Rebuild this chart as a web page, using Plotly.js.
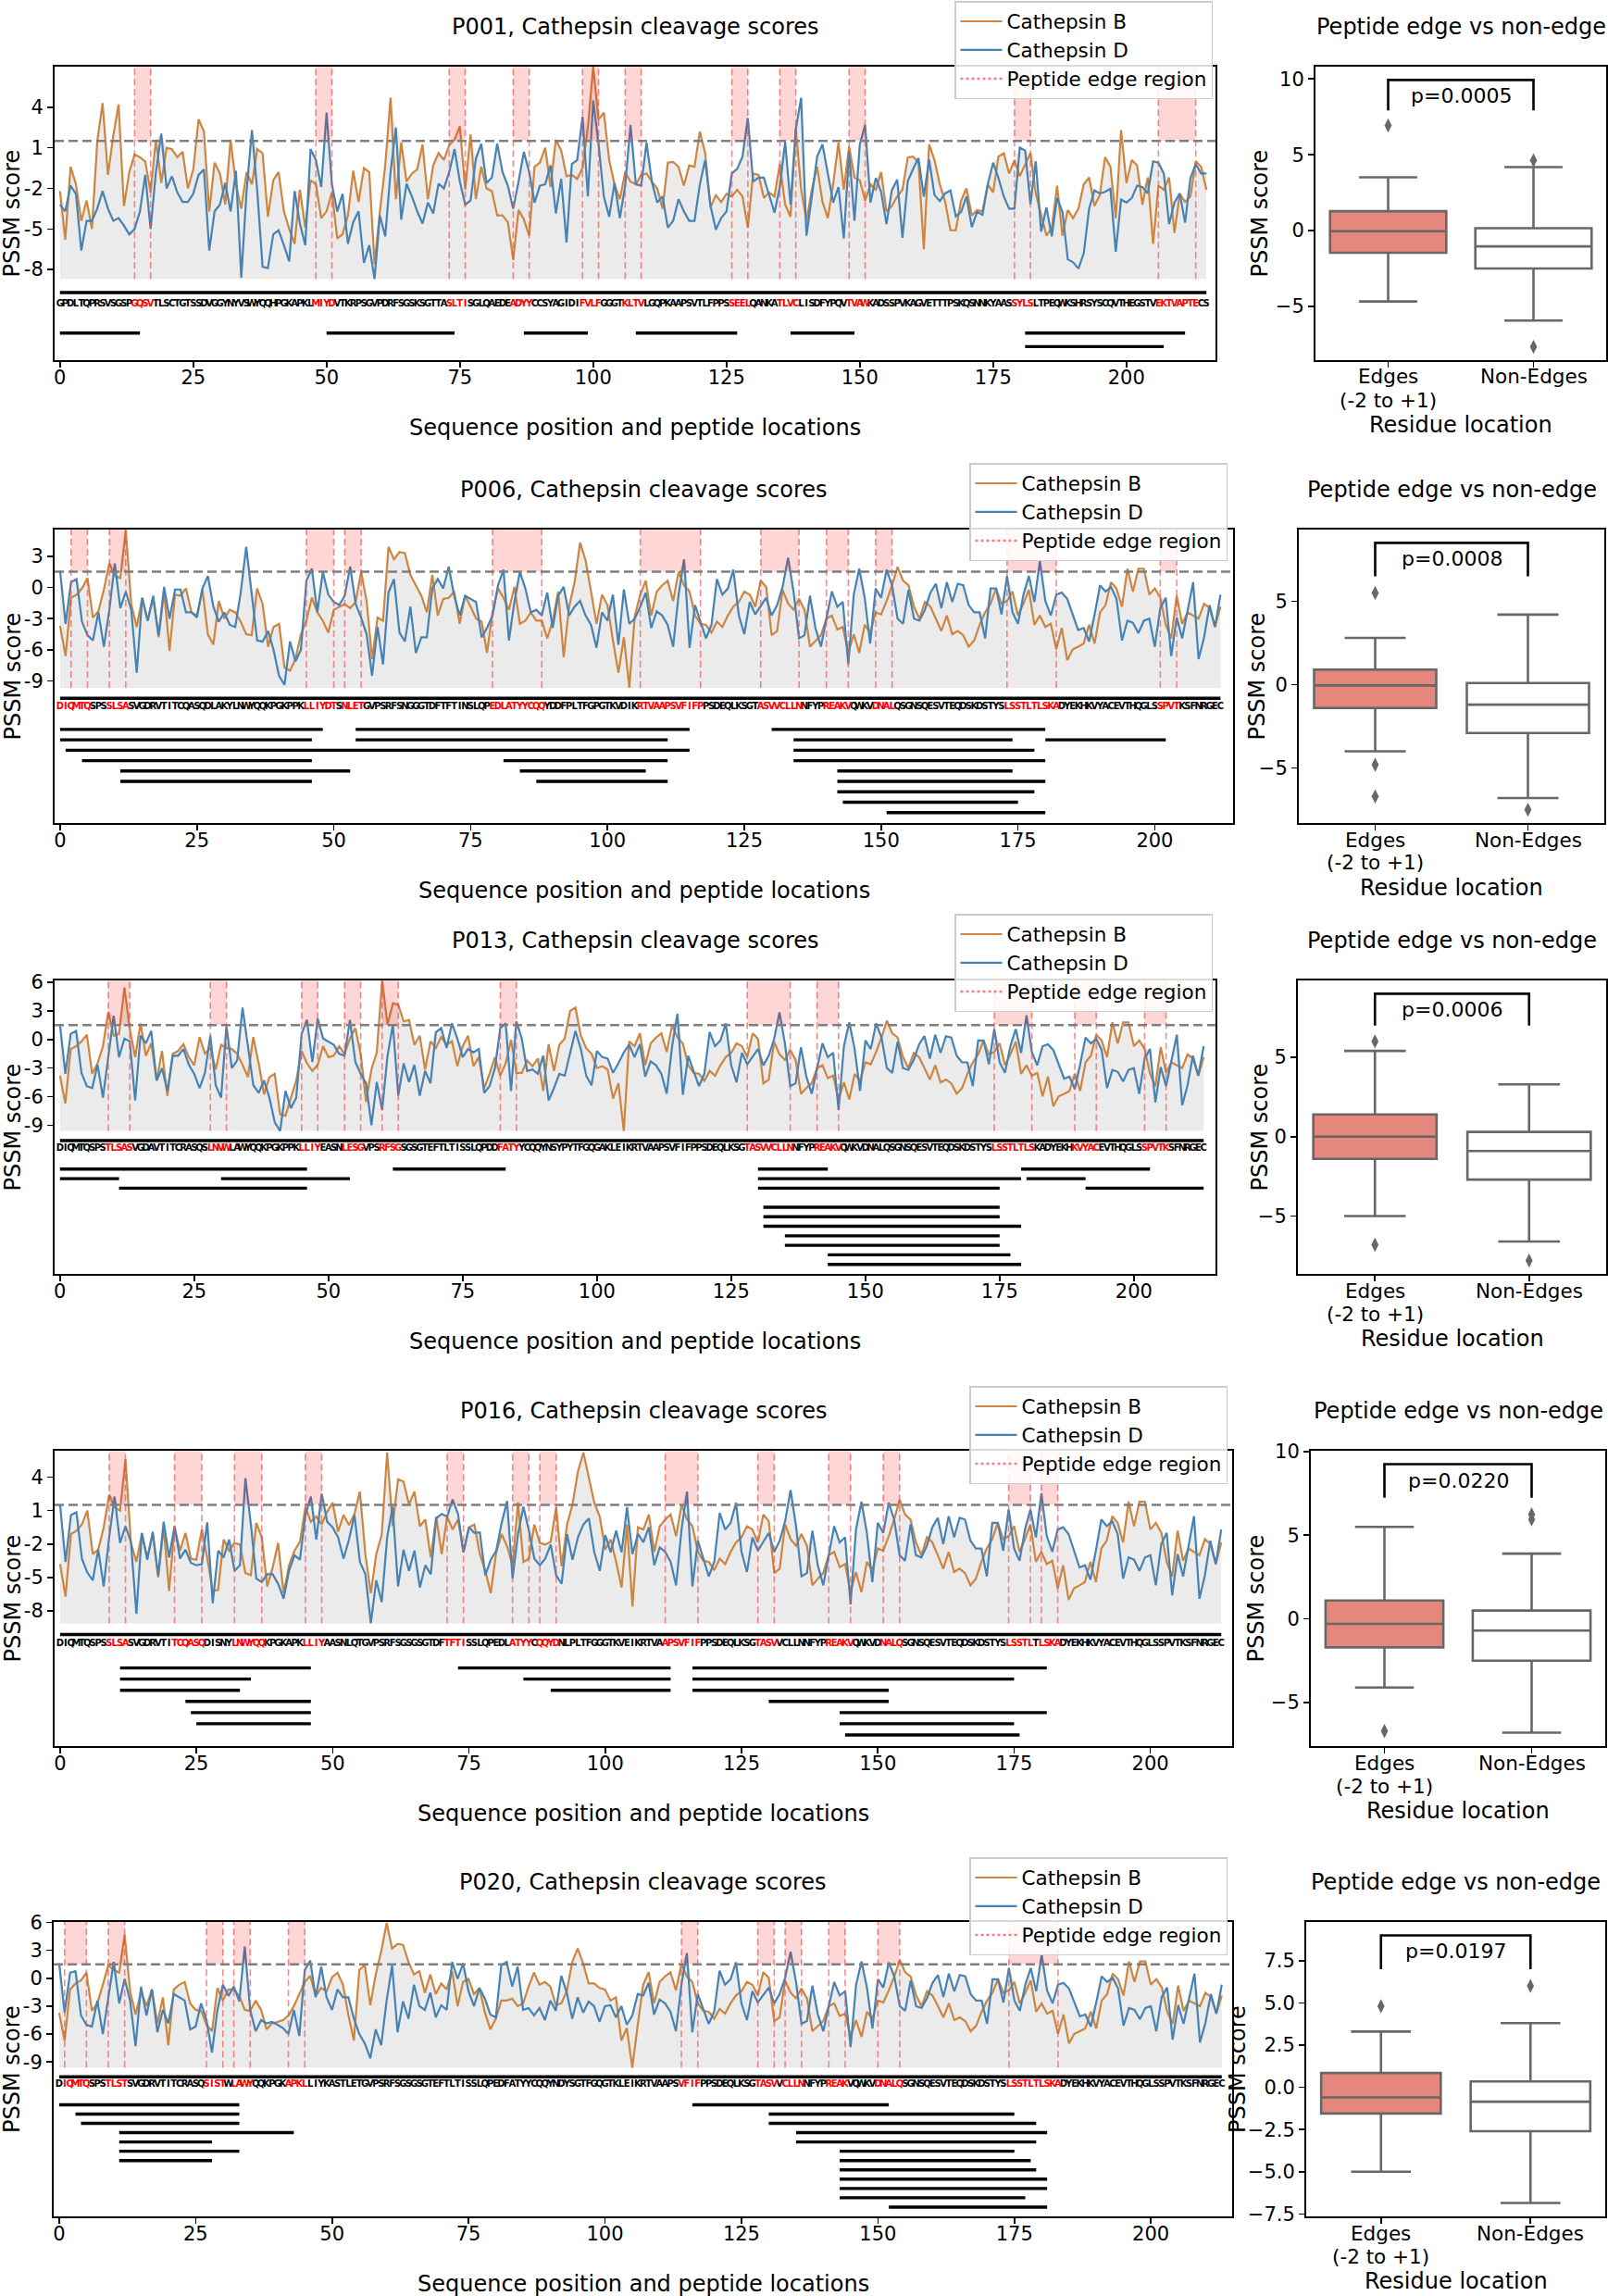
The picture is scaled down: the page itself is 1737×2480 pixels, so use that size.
<!DOCTYPE html>
<html><head><meta charset="utf-8">
<script src="https://cdn.plot.ly/plotly-3.0.1.min.js"></script>
<style>body{margin:0;background:#fff}#chart{width:1737px;height:2480px}</style>
</head><body><div id="chart"></div>
<script>
// ================= DATA =================
const xTickVals = [0,25,50,75,100,125,150,175,200];
const boxCategoryLines = [['Edges', '(-2 to +1)'], ['Non-Edges']];
const edgeThreshold = 1.5;

// ---- P001 ----
const p001_seq = "GPDLTQPRSVSGSPGQSVTLSCTGTSSDVGGYNYVSWYQQHPGKAPKLMIYDVTKRPSGVPDRFSGSKSGTTASLTISGLQAEDEADYYCCSYAGIDIFVLFGGGTKLTVLGQPKAAPSVTLFPPSSEELQANKATLVCLISDFYPQVTVAWKADSSPVKAGVETTTPSKQSNNKYAASSYLSLTPEQWKSHRSYSCQVTHEGSTVEKTVAPTECS";
const p001_B = [-2.2,-5.8,-0.4,-1.7,-4.4,-2.9,-5.0,1.5,4.3,-1.0,
 1.9,4.2,-3.3,-0.8,0.5,0.3,0.0,-2.3,1.6,-1.6,
 1.0,0.9,0.3,0.7,-2.0,-0.6,3.1,2.2,-3.7,-0.1,
 -0.9,-3.2,1.6,-1.7,-3.5,-0.8,-1.7,0.9,0.6,-4.1,
 -1.4,-0.8,-3.7,-5.0,-6.1,-2.1,-4.9,-1.4,-1.7,-4.2,
 -3.7,-2.3,-5.7,-5.4,-4.0,-0.7,-3.0,-0.5,-0.8,-7.6,
 -3.7,-0.3,4.7,-2.8,1.4,-1.5,-0.9,-0.6,1.25,-2.8,
 -0.3,0.6,0.1,1.2,1.6,2.6,-2.1,2.0,-2.8,-0.4,
 -2.0,-2.2,-4.0,-4.0,-4.5,-7.3,-3.6,-4.3,-5.5,-0.4,
 -0.1,1.0,-1.9,1.6,0.8,-1.1,-1.0,-1.3,-0.5,2.5,
 7.0,3.1,3.6,0.1,-1.7,-2.8,-0.8,-1.5,-1.7,-1.0,
 -0.9,-1.5,-2.0,-3.5,-0.1,-0.05,-0.4,-1.8,-0.3,-0.4,
 2.2,0.6,-3.4,-2.5,-3.0,-2.4,-2.6,-2.1,-2.6,-4.9,
 -0.9,-1.0,-2.7,-2.3,-2.6,-0.2,-3.2,-4.1,2.4,-2.1,
 -4.4,-2.1,-0.4,-3.0,-4.2,-1.7,1.4,-2.1,1.1,-1.2,
 -1.4,-2.9,-1.7,-2.1,-0.8,-3.7,-3.3,-2.6,-2.1,0.3,
 0.35,-0.1,-6.5,1.25,0.1,-1.7,-3.0,-5.1,-5.1,-2.9,
 -2.0,-4.0,-3.6,-3.7,-1.7,-2.3,0.35,0.6,-0.9,0.1,
 -1.1,-0.3,0.6,-2.4,-4.0,-5.5,-4.9,-1.8,-5.5,-3.6,
 -4.2,-3.5,-1.7,-1.2,-3.3,-2.5,0.3,-0.4,-4.2,2.3,
 -1.6,0.1,-0.3,-3.2,-1.2,-6.1,-1.8,-2.1,-1.2,-5.3,
 -2.4,-3.0,-2.6,0.0,-0.4,-2.1];
const p001_D = [-3.2,-3.7,-1.8,-2.4,-6.6,-4.4,-4.4,-3.5,-2.2,-3.5,
 -4.4,-4.2,-4.75,-5.4,-5.0,-3.7,-1.0,-5.0,-0.8,2.05,
 -2.0,-1.1,-2.3,-3.0,-3.0,-2.4,-1.0,-0.6,-6.6,-3.7,
 -3.2,-1.6,-3.7,-0.7,-8.6,-2.2,2.3,-2.2,-7.8,-7.9,
 -5.4,-5.1,-6.2,-7.4,-2.2,-4.6,-6.2,0.9,0.1,-1.9,
 3.6,-1.7,-3.7,-2.4,-6.1,-4.5,-3.7,-7.5,-6.2,-8.7,
 -4.0,-5.55,-0.8,2.5,-4.3,-1.65,-2.6,-3.7,-4.6,-3.05,
 -3.85,-1.65,-2.0,-0.8,0.9,-1.5,-3.2,-2.9,0.2,1.3,
 -1.6,-1.2,1.3,-0.8,-1.8,-3.5,-1.5,0.7,-0.8,-3.05,
 -1.8,-1.7,-0.3,-3.85,-1.3,-6.0,-0.2,0.1,3.3,-2.6,
 4.5,1.3,-2.6,-4.1,-1.6,-4.2,-1.8,2.7,-1.7,-1.8,
 1.4,-1.5,-3.05,-2.6,-4.9,-4.4,-2.8,-3.7,-4.4,-4.4,
 -1.7,0.1,-3.3,-5.05,-4.2,-3.7,-0.9,-0.56,0.35,3.2,
 -1.5,-1.2,-1.2,-2.5,-3.8,-1.9,1.45,-3.2,2.4,4.7,
 -5.5,-2.6,0.35,1.25,-1.0,-3.05,-1.9,-5.7,0.7,-4.4,
 1.25,2.7,-3.05,-1.24,-2.26,-4.64,-2.15,-1.35,-5.66,-1.46,
 -0.56,0.24,-2.6,0.12,-2.49,-2.94,-2.37,-2.15,-4.07,-3.73,
 -2.6,-4.87,-3.73,-3.96,-1.69,-0.1,-1.24,-2.6,-3.5,-3.5,
 1.03,0.8,-3.17,0.0,-5.2,-3.4,-5.55,-2.7,-3.73,-7.25,
 -7.47,-7.93,-6.8,-3.5,-2.15,-2.37,-2.26,-2.03,-6.68,-2.83,
 -3.05,-2.71,-1.8,-1.92,-2.37,0.0,-0.1,-0.9,-4.64,-3.05,
 -2.37,-4.53,-1.24,-0.22,-0.9,-0.9];
const p001_rows = [[[0,15],[50,74],[87,99],[108,127],[137,149],[181,211]], [[181,207]]];
const p001_bands = [[14,17],[48,51],[73,76],[85,88],[98,101],[106,109],[126,129],[135,138],[148,151],[179,182],[206,213]];
const p001_extraRed = [];
const p001_yticks = [4,1,-2,-5,-8];
const p001_edgeBox = [-4.67,-1.46,-0.04,1.28,3.52];
const p001_edgeOut = [6.93];
const p001_nonBox = [-5.93,-2.5,-1.04,0.16,4.19];
const p001_nonOut = [4.63,-7.66];
const p001_p = "p=0.0005";

// ---- shared kappa constant region (R..C) ----
const kappaB = [-0.7,0.65,-2.7,-0.4,0.2,0.65,-1.3,1.5,0.2,-0.4,
 -2.7,-3.5,-3.6,-4.35,-3.3,-3.8,-2.7,-1.85,-1.4,-0.4,
 -0.7,-1.85,0.65,0.05,-4.6,-4.2,-0.24,-1.56,-2.15,-1.1,
 -2.15,-5.7,-5.1,-4.6,-3.0,-2.7,-4.06,-3.8,-6.3,-4.5,
 -6.3,-3.6,-4.35,-2.4,-2.6,-1.3,0.2,1.97,0.65,0.2,
 -1.85,-3.0,-1.4,-1.85,-3.0,-4.2,-2.7,-4.5,-4.2,-4.6,
 -5.7,-5.1,-3.6,-2.4,-1.56,-0.1,-1.56,-1.3,-0.4,-2.7,
 -1.56,-0.24,-3.6,-2.7,-3.8,-3.5,-5.97,-3.9,-7.0,-5.97,
 -5.7,-5.4,-3.6,-5.4,-2.4,-1.7,0.5,-0.1,-1.85,1.8,
 -0.4,1.8,1.8,-0.7,-0.1,-0.97,-3.6,-4.9,-0.8,-3.5,
 -2.4,-2.7,-3.0,-1.56,-2.0,-3.8,-1.85];
const kappaD = [-1.85,-0.5,-3.9,-2.3,-2.7,-3.6,-5.7,-0.7,2.7,-5.8,
 -1.7,-3.3,-4.9,-3.6,0.8,-0.7,-0.1,1.7,-2.7,-4.5,
 -1.4,-2.6,-1.85,-1.0,-2.7,-1.7,0.05,2.85,-0.4,-4.9,
 -4.6,-0.8,-3.9,-5.7,-3.0,-0.4,-1.85,-1.4,-7.4,-0.7,
 1.8,-1.0,-5.4,-0.1,-1.0,1.7,0.2,-3.0,-3.5,-0.24,
 -3.0,-3.2,-2.15,-0.5,0.35,-2.0,0.5,-1.4,0.35,0.2,
 -1.7,-2.4,-2.4,-4.9,-0.1,-0.1,-2.6,1.1,-2.4,-3.5,
 -0.7,1.1,-1.4,2.55,-1.3,-2.7,-0.7,-0.5,-1.1,-2.7,
 -4.1,-3.9,-5.2,-2.6,0.2,-0.4,0.05,-1.1,-5.1,-3.2,
 -3.4,-4.4,-3.2,-3.0,-5.7,-2.0,-1.0,-6.6,-2.9,-4.9,
 -2.15,0.5,-6.9,-4.8,-1.7,-3.8,-0.7];

// ---- P006 ----
const p006_seq = "DIQMTQSPSSLSASVGDRVTITCQASQDLAKYLNWYQQKPGKPPKLLIYDTSNLETGVPSRFSNGGGTDFTFTINSLQPEDLATYYCQQYDDFPLTFGPGTKVDIKRTVAAPSVFIFPPSDEQLKSGTASVVCLLNNFYPREAKVQWKVDNALQSGNSQESVTEQDSKDSTYSLSSTLTLSKADYEKHKVYACEVTHQGLSSPVTKSFNRGEC";
const p006_Bvar = [-3.7,-6.6,-1.0,-0.7,-0.1,0.9,-2.9,-2.3,-0.2,2.3,
 1.1,0.9,5.5,-1.6,-3.8,-1.0,-3.2,-1.0,-4.8,-0.4,
 -6.1,-0.7,-0.8,-0.1,-2.4,-2.7,-0.2,-4.5,-5.5,-1.3,
 -3.0,-2.15,-2.4,-3.3,-4.5,-4.6,-0.1,-1.6,-5.7,-3.8,
 -3.5,-7.7,-8.0,-6.9,-4.5,-3.2,-1.0,-2.4,-3.2,-4.35,
 -2.15,-1.85,-1.6,-2.0,-1.4,1.5,-1.3,-6.9,-2.9,-3.2,
 3.9,2.7,3.4,3.3,1.2,0.2,-0.8,-2.4,1.2,-2.7,
 -1.1,-1.0,-0.4,-3.5,-0.8,-1.85,-3.0,-3.3,-6.3,-2.4,
 -0.1,-1.0,-2.15,0.05,-3.5,-3.2,-2.4,-3.2,-3.2,-4.9,
 -3.2,-0.4,-6.7,-1.85,0.5,4.3,2.6,-0.4,-3.5,-0.7,
 -1.7,-5.1,-8.2,-4.8,-9.65,-2.7];
const p006_Dvar = [1.6,-3.5,0.5,0.8,-3.3,-4.6,-5.1,-2.4,-5.7,-2.15,
 2.3,-2.0,-0.4,-2.15,-8.2,-1.0,-3.2,-0.8,-4.6,0.05,
 -3.0,-0.2,-0.2,-2.4,-2.4,-2.9,-0.1,1.1,-1.85,-3.3,
 -2.4,-3.6,-3.8,-0.5,3.9,-0.7,-5.1,-5.2,-4.2,-6.0,
 -8.5,-9.35,-5.2,-7.1,-6.0,0.65,1.8,-2.4,1.5,-0.7,
 -1.4,-1.7,-0.8,2.0,-1.6,-2.9,-4.5,-8.5,-3.8,-7.4,
 -0.5,0.8,-4.35,-5.2,-1.85,-6.3,-4.8,-4.8,-0.1,0.8,
 -0.1,2.0,-0.8,-2.7,-0.8,-1.1,-1.4,-4.8,-3.9,-2.7,
 0.2,1.7,-5.1,-1.4,1.5,-0.1,-2.4,-2.15,-2.7,-0.5,
 -3.9,-0.8,0.05,-2.7,-1.85,-1.3,-2.7,-3.6,-5.8,-2.4,
 -3.2,-0.7,-5.5,-0.2,-3.5,-3.0];
const p006_rows = [[[0,48],[54,115],[130,180]], [[0,46],[54,111],[134,174],[180,202]], [[1,115],[134,178]],
 [[4,46],[81,111],[134,180]], [[11,53],[84,107],[142,174]], [[11,46],[87,111],[142,180]],
 [[142,178]], [[143,175]], [[151,180]]];
const p006_bands = [[2,5],[9,12],[45,50],[52,55],[79,88],[106,117],[128,135],[140,144],[149,152],[173,182],[201,204]];
const p006_extraRed = [[0,1]];
const p006_yticks = [3,0,-3,-6,-9];
const p006_edgeBox = [-4.0,-1.4,-0.05,0.9,2.8];
const p006_edgeOut = [5.5,-4.8,-6.7];
const p006_nonBox = [-6.8,-2.9,-1.2,0.1,4.2];
const p006_nonOut = [-7.5];
const p006_p = "p=0.0008";

// ---- P013 ----
const p013_seq = "DIQMTQSPSTLSASVGDAVTITCRASQSLNVWLAWYQQKPGKPPKLLIYEASNLESGVPSRFSGSGSGTEFTLTISSLQPDDFATYYCQQYNSYPYTFGQGAKLEIKRTVAAPSVFIFPPSDEQLKSGTASVVCLLNNFYPREAKVQWKVDNALQSGNSQESVTEQDSKDSTYSLSSTLTLSKADYEKHKVYACEVTHQGLSSPVTKSFNRGEC";
const p013_Bvar = [-3.8,-6.7,-1.0,-0.7,-0.2,0.5,-3.6,-2.5,-0.7,2.9,
 0.4,0.6,5.45,1.1,-1.85,1.7,-1.7,-0.4,-4.3,-1.2,
 -5.9,-1.5,-1.2,-0.5,-1.85,-2.7,0.26,-1.5,-0.9,-3.15,
 -0.55,-0.9,-1.0,-1.5,-2.65,-3.95,0.26,-2.5,-5.75,-3.95,
 -3.6,-7.85,-8.0,-6.1,-4.3,-1.2,-2.5,-3.3,-2.65,-0.7,
 -1.85,-1.7,-0.7,-1.5,0.1,1.2,-1.5,-6.55,-3.15,-1.35,
 6.2,1.55,3.8,3.65,1.9,2.05,-0.55,0.4,-3.15,-0.2,
 -0.9,0.26,-0.55,-0.2,-2.8,-0.7,0.4,-2.8,-1.85,-5.1,
 -3.6,-1.85,-3.8,-2.5,-0.06,-3.5,-3.5,-2.2,-2.8,-2.0,
 -5.4,-0.5,-3.3,-0.55,0.1,3.0,3.35,0.4,-0.9,-1.5,
 -3.0,-2.8,-3.15,-6.2,-4.6,-9.6,-0.2];
const p013_Dvar = [1.55,-3.6,0.6,0.9,-3.5,-4.9,-5.1,-2.65,-6.1,-1.85,
 2.5,-1.85,0.1,-0.2,-6.4,0.4,-0.4,0.9,-4.3,-3.0,
 -5.4,-1.7,-1.7,-1.0,-2.65,-3.6,-5.1,-3.5,0.4,-4.8,
 -6.1,1.4,-3.0,-2.2,3.35,-0.7,-4.8,-5.6,-4.3,-6.1,
 -8.7,-9.6,-5.4,-7.2,-6.1,0.6,2.05,-2.35,2.2,0.1,
 -0.2,-0.55,-1.5,-1.7,2.05,-2.35,-3.6,-4.6,-9.0,-4.45,
 -7.4,-1.7,1.55,-5.9,-2.5,-4.45,-2.65,-5.9,-3.3,-4.6,
 0.75,1.2,-0.9,1.7,0.1,-1.85,-1.0,-1.35,-1.0,-5.6,
 -4.9,-3.0,1.2,1.7,-5.4,1.9,0.1,-3.3,-3.15,-3.6,
 -1.7,-6.4,-5.1,-3.6,-3.8,-1.5,0.9,-1.0,-3.8,-4.8,
 -1.2,-1.85,-2.0,-3.5,-2.5,-1.35,-0.55];
const p013_rows = [[[0,46],[62,83],[130,143],[179,203]], [[0,11],[30,54],[130,179],[180,191]], [[11,46],[130,175],[191,213]],
 [], [[131,175]], [[131,175]], [[131,179]], [[135,175]], [[135,175]], [[143,177]], [[143,179]]];
const p013_bands = [[9,13],[28,31],[45,48],[53,56],[60,63],[82,85],[128,136],[141,145],[174,181],[189,193],[202,206]];
const p013_extraRed = [];
const p013_yticks = [6,3,0,-3,-6,-9];
const p013_edgeBox = [-5.0,-1.4,0.0,1.4,5.4];
const p013_edgeOut = [6.0,-6.8];
const p013_nonBox = [-6.6,-2.7,-0.9,0.3,3.3];
const p013_nonOut = [-7.8];
const p013_p = "p=0.0006";

// ---- P016 ----
const p016_seq = "DIQMTQSPSSLSASVGDRVTITCQASQDISNYLNWYQQKPGKAPKLLIYAASNLQTGVPSRFSGSGSGTDFTFTISSLQPEDLATYYCQQYDNLPLTFGGGTKVEIKRTVAAPSVFIFPPSDEQLKSGTASVVCLLNNFYPREAKVQWKVDNALQSGNSQESVTEQDSKDSTYSLSSTLTLSKADYEKHKVYACEVTHQGLSSPVTKSFNRGEC";
const p016_Bvar = [-3.8,-6.7,-1.1,-0.8,-0.25,1.0,-2.9,-2.5,-0.5,2.4,
 1.3,1.0,5.6,-1.9,-3.6,-1.1,-3.2,-1.1,-5.0,-0.5,
 -6.2,-0.5,-2.6,-1.0,-3.3,-3.4,-0.7,-3.25,-6.2,-6.1,
 -1.6,-2.6,-1.9,-2.05,-4.6,-4.8,-0.1,-1.4,-5.8,-4.1,
 -1.9,-6.4,-3.9,-2.6,-1.8,1.3,0.0,0.45,-0.25,0.9,
 1.7,-0.9,0.6,-0.3,0.7,2.7,-2.9,-6.4,-2.9,-1.2,
 6.2,-0.4,3.8,3.6,1.55,2.7,-0.4,0.2,-3.2,0.45,
 -2.9,0.45,-0.7,0.2,-2.75,-0.5,-0.25,-2.9,-4.4,-6.4,
 -2.75,-1.1,-2.2,-3.9,1.7,-3.6,-3.3,-0.25,-1.9,-2.05,
 -1.8,1.3,-4.0,-0.25,1.55,4.5,6.2,3.8,1.7,0.45,
 -2.5,-1.6,-3.6,-5.9,-0.25,-7.6,-0.5];
const p016_Dvar = [1.55,-3.6,0.6,0.85,-3.3,-4.55,-5.25,-2.5,-5.8,-1.4,
 2.25,-1.9,-0.4,-1.8,-8.25,-1.0,-3.4,-0.9,-4.8,0.0,
 -3.2,-0.4,-3.3,-2.5,-3.7,-3.9,-3.8,-0.05,-7.3,-2.6,
 -3.2,-1.6,-4.4,-3.9,3.9,-0.25,-5.1,-5.4,-4.7,-4.7,
 -5.55,-6.9,-4.4,-3.0,-3.4,0.6,2.25,-1.6,2.5,0.0,
 -0.5,-1.4,-3.3,-1.6,0.6,-3.6,-4.7,-9.1,-5.25,-7.2,
 -1.4,1.35,-5.8,-2.5,-4.4,-2.6,-5.9,-3.9,-4.7,0.3,
 0.7,0.45,2.0,0.7,-2.75,-0.5,-1.0,-0.95,-4.8,-3.4,
 -2.6,-0.1,1.85,-5.1,-1.1,1.35,-0.8,-3.3,-3.9,-3.3,
 -2.05,-4.8,-5.55,-1.1,-3.4,-1.4,-0.25,0.3,-2.75,-4.4,
 -1.2,-2.75,-0.8,-2.75,1.3,-2.9,-1.1];
const p016_rows = [[[11,46],[73,112],[116,181]], [[11,35],[85,112],[116,175]], [[11,33],[90,112],[116,152]],
 [[23,46],[130,152]], [[24,46],[143,181]], [[25,46],[143,175]], [[144,176]]];
const p016_bands = [[9,12],[21,26],[32,37],[45,48],[71,74],[83,86],[88,91],[111,117],[128,131],[141,145],[151,154],[174,178],[180,183]];
const p016_extraRed = [];
const p016_yticks = [4,1,-2,-5,-8];
const p016_edgeBox = [-4.1,-1.7,-0.3,1.1,5.5];
const p016_edgeOut = [-6.7];
const p016_nonBox = [-6.8,-2.5,-0.7,0.5,3.9];
const p016_nonOut = [6.25,5.95];
const p016_p = "p=0.0220";

// ---- P020 ----
const p020_seq = "DIQMTQSPSTLSTSVGDRVTITCRASQSISTWLAWYQQKPGKAPKLLIYKASTLETGVPSRFSGSGSGTEFTLTISSLQPEDFATYYCQQYNDYSGTFGQGTKLEIKRTVAAPSVFIFPPSDEQLKSGTASVVCLLNNFYPREAKVQWKVDNALQSGNSQESVTEQDSKDSTYSLSSTLTLSKADYEKHKVYACEVTHQGLSSPVTKSFNRGEC";
const p020_Bvar = [-3.7,-6.7,-1.2,-0.56,-0.23,0.6,-3.5,-2.7,-0.7,1.4,
 0.9,0.6,4.7,-1.4,-3.9,-1.4,-3.0,-1.2,-4.85,-2.05,
 -7.2,-1.2,-0.7,-0.4,-2.7,-3.4,-3.5,-5.0,-5.7,-1.05,
 -2.4,-1.2,-1.2,-1.9,-3.4,-3.5,-2.4,-3.4,-5.5,-4.85,
 -4.7,-4.5,-4.0,-3.0,-1.7,-0.4,0.26,-1.9,-1.05,-1.4,
 0.1,0.6,-0.7,-4.0,-6.7,0.9,1.4,-2.9,0.4,2.9,
 5.95,3.2,3.7,3.6,1.75,0.4,0.76,-1.55,0.4,-1.7,
 -0.56,-1.2,0.76,-3.0,-0.4,-0.07,-1.7,-1.05,-3.7,-5.5,
 -4.35,-2.4,-2.4,-2.2,-3.0,-2.7,-0.9,0.6,-0.7,-0.4,
 -0.9,-2.9,-2.7,-1.4,1.75,3.2,1.6,-0.56,-0.56,-1.05,
 -1.2,-2.4,-2.05,-6.7,-5.35,-9.6,-5.0];
const p020_Dvar = [1.6,-3.7,0.6,0.76,-4.0,-5.0,-5.2,-2.4,-6.0,-1.9,
 1.75,-2.7,-0.07,-2.4,-7.3,-0.9,-4.0,-1.2,-5.8,-3.4,
 -4.85,-1.7,-2.05,-2.4,-5.5,-5.2,-2.7,-4.5,-8.0,-3.4,
 -0.7,-1.9,-0.9,-2.5,3.4,-3.4,-5.7,-4.5,-4.85,-4.7,
 -5.0,-5.35,-6.0,-3.4,-6.2,0.9,1.9,-2.05,1.25,-2.05,
 -3.4,-1.2,-2.05,-2.05,-4.35,-6.0,-7.0,-8.6,-5.5,-7.2,
 -2.4,1.4,-5.8,-2.5,-4.35,-0.7,-3.0,-3.4,-1.55,-4.2,
 -2.9,-3.4,1.75,-0.07,1.6,-1.4,-3.0,-1.05,-2.2,-3.9,
 -4.2,1.4,1.75,-0.9,1.25,-3.4,-3.2,-4.0,-3.2,-4.5,
 -2.4,-3.5,0.26,-1.55,-4.35,-2.05,-3.7,-2.5,-3.0,-4.7,
 -3.0,-2.9,-4.2,-3.0,-5.0,-4.0,-1.7];
const p020_rows = [[[0,33],[116,152]], [[3,33],[130,175]], [[4,33],[130,179]], [[11,43],[135,181]],
 [[11,28],[135,179]], [[11,33],[143,175]], [[11,28],[143,178]], [[143,179]], [[143,181]], [[143,181]], [[143,177]], [[152,181]]];
const p020_bands = [[1,5],[9,12],[27,30],[32,35],[42,45],[114,117],[128,131],[133,136],[141,144],[150,154],[174,183]];
const p020_extraRed = [];
const p020_yticks = [6,3,0,-3,-6,-9];
const p020_edgeBox = [-5.0,-1.55,-0.6,0.85,3.3];
const p020_edgeOut = [4.8];
const p020_nonBox = [-6.85,-2.6,-0.85,0.35,3.8];
const p020_nonOut = [6.0];
const p020_p = "p=0.0197";

// ================= LAYOUT CONFIG (pixels) =================
const W = 1737, H = 2480;
const FONT = 'DejaVu Sans, Verdana, sans-serif';
const panels = [
 {id:'P001', seq:p001_seq, B:p001_B, D:p001_D, rows:p001_rows, bands:p001_bands, extraRed:p001_extraRed, yticks:p001_yticks,
  eBox:p001_edgeBox, eOut:p001_edgeOut, nBox:p001_nonBox, nOut:p001_nonOut, p:p001_p,
  main:[59,1313], side:[1421,1735], top:72, bottom:389, xmax:216.7, ytop:7.0, legR:1310, legT:1, ytitleBox:1361, dtick:5},
 {id:'P006', seq:p006_seq, B:p006_Bvar.concat(kappaB), D:p006_Dvar.concat(kappaD), rows:p006_rows, bands:p006_bands, extraRed:p006_extraRed, yticks:p006_yticks,
  eBox:p006_edgeBox, eOut:p006_edgeOut, nBox:p006_nonBox, nOut:p006_nonOut, p:p006_p,
  main:[59,1332], side:[1403,1733], top:572, bottom:889, xmax:214.3, ytop:5.56, legR:1326, legT:500, ytitleBox:1357, dtick:5},
 {id:'P013', seq:p013_seq, B:p013_Bvar.concat(kappaB), D:p013_Dvar.concat(kappaD), rows:p013_rows, bands:p013_bands, extraRed:p013_extraRed, yticks:p013_yticks,
  eBox:p013_edgeBox, eOut:p013_edgeOut, nBox:p013_nonBox, nOut:p013_nonOut, p:p013_p,
  main:[59,1313], side:[1402,1735], top:1059, bottom:1376, xmax:215.2, ytop:6.2, legR:1310, legT:987, ytitleBox:1360, dtick:5},
 {id:'P016', seq:p016_seq, B:p016_Bvar.concat(kappaB), D:p016_Dvar.concat(kappaD), rows:p016_rows, bands:p016_bands, extraRed:p016_extraRed, yticks:p016_yticks,
  eBox:p016_edgeBox, eOut:p016_edgeOut, nBox:p016_nonBox, nOut:p016_nonOut, p:p016_p,
  main:[59,1331], side:[1416,1734], top:1567, bottom:1886, xmax:215.0, ytop:6.36, legR:1326, legT:1497, ytitleBox:1356, dtick:5},
 {id:'P020', seq:p020_seq, B:p020_Bvar.concat(kappaB), D:p020_Dvar.concat(kappaD), rows:p020_rows, bands:p020_bands, extraRed:p020_extraRed, yticks:p020_yticks,
  eBox:p020_edgeBox, eOut:p020_edgeOut, nBox:p020_nonBox, nOut:p020_nonOut, p:p020_p,
  main:[58,1331], side:[1411,1734], top:2076, bottom:2394, xmax:214.9, ytop:6.05, legR:1326, legT:2006, ytitleBox:1337, dtick:2.5}
];

const px = v => v / W;
const py = v => 1 - v / H;
const traces = [];
const layout = {width:W, height:H, margin:{l:0,r:0,t:0,b:0}, paper_bgcolor:'#ffffff', plot_bgcolor:'#ffffff',
  showlegend:true, shapes:[], annotations:[], font:{family:FONT, color:'#000'}};
const axisBase = {showline:true, linecolor:'#000', linewidth:2, mirror:true, ticks:'outside', ticklen:6, tickwidth:1.6,
  tickcolor:'#000', showgrid:false, zeroline:false, tickfont:{family:FONT, size:21, color:'#000'}, fixedrange:true};
const ORANGE = '#cd853f', BLUE = '#4682b4';

function ann(text, x, y, size, extra) {
  layout.annotations.push(Object.assign({text, x:px(x), y:py(y), xref:'paper', yref:'paper', showarrow:false,
    xanchor:'center', yanchor:'middle', font:{family:FONT, size, color:'#000'}}, extra || {}));
}

panels.forEach((P, i) => {
  const k = 2*i + 1, kb = 2*i + 2;
  const xa = k === 1 ? 'x' : 'x' + k, ya = k === 1 ? 'y' : 'y' + k;
  const xb = 'x' + kb, yb = 'y' + kb;
  const legKey = i === 0 ? 'legend' : 'legend' + (i + 1);
  const n = P.seq.length;
  const xs = Array.from({length:n}, (_, j) => j);
  const B = P.B.slice(0, n), D = P.D.slice(0, n);
  const ymin = Math.min(...B, ...D);
  const env = B.map((b, j) => Math.max(b, D[j]));
  const ybot = ymin - 4 - (P.rows.length - 1) - 1;
  const base = {xaxis:xa, yaxis:ya, hoverinfo:'skip', legend:legKey};

  traces.push(Object.assign({x:xs, y:xs.map(() => ymin), mode:'lines', line:{width:0, color:'rgba(0,0,0,0)'}, showlegend:false}, base));
  traces.push(Object.assign({x:xs, y:env, mode:'lines', line:{width:0, color:'rgba(0,0,0,0)'}, fill:'tonexty',
    fillcolor:'rgba(200,200,200,0.36)', showlegend:false}, base));
  traces.push(Object.assign({x:xs, y:B, mode:'lines', name:'Cathepsin B', line:{color:ORANGE, width:2.2}}, base));
  traces.push(Object.assign({x:xs, y:D, mode:'lines', name:'Cathepsin D', line:{color:BLUE, width:2.2}}, base));
  traces.push(Object.assign({x:[null], y:[null], mode:'lines', name:'Peptide edge region',
    line:{color:'#f08080', width:2.5, dash:'dot'}}, base));
  const vx = [], vy = [];
  P.bands.forEach(([a, b]) => { [a, b].forEach(x => { vx.push(x, x, null); vy.push(ymin, P.ytop, null); }); });
  traces.push(Object.assign({x:vx, y:vy, mode:'lines', line:{color:'rgba(236,80,80,0.65)', width:1.6, dash:'7px,4px'}, showlegend:false}, base));
  P.bands.forEach(([a, b]) => {
    layout.shapes.push({type:'rect', xref:xa, yref:ya, x0:a, x1:b, y0:edgeThreshold, y1:P.ytop,
      fillcolor:'rgba(255,0,0,0.16)', line:{width:0}, layer:'above'});
  });
  layout.shapes.push({type:'line', xref:xa + ' domain', yref:ya, x0:0, x1:1, y0:edgeThreshold, y1:edgeThreshold,
    line:{color:'#7f7f7f', width:2.5, dash:'10px,5px'}, layer:'above'});
  traces.push(Object.assign({x:[0, n - 1], y:[ymin - 1, ymin - 1], mode:'lines', line:{color:'#000', width:3.5}, showlegend:false}, base));
  const inR = j => P.bands.some(([a, b]) => j >= a && j <= b) || P.extraRed.some(([a, b]) => j >= a && j <= b);
  const bl = {x:[], y:[], t:[]}, rd = {x:[], y:[], t:[]};
  xs.forEach(j => { const g = inR(j) ? rd : bl; g.x.push(j); g.y.push(ymin - 1.85); g.t.push(P.seq[j]); });
  [[bl, '#000000'], [rd, '#ff0000']].forEach(([g, c]) => {
    traces.push(Object.assign({x:g.x, y:g.y, text:g.t, mode:'text', textposition:'middle center', cliponaxis:false,
      textfont:{family:"'Liberation Sans Narrow', 'DejaVu Sans'", size:10, color:c, weight:'bold'}, showlegend:false}, base));
  });
  const rx = [], ry = [];
  P.rows.forEach((segs, r) => segs.forEach(([s, e]) => { rx.push(s, e, null); ry.push(ymin - 4 - r, ymin - 4 - r, null); }));
  traces.push(Object.assign({x:rx, y:ry, mode:'lines', line:{color:'#000', width:3.4}, showlegend:false}, base));

  const yDom = [py(P.bottom), py(P.top)];
  layout[k === 1 ? 'xaxis' : 'xaxis' + k] = Object.assign({}, axisBase, {domain:[px(P.main[0]), px(P.main[1])], range:[-1, P.xmax],
    tickvals:xTickVals, ticktext:xTickVals.map(String), anchor:ya, ticklabelstandoff:-7});
  layout[k === 1 ? 'yaxis' : 'yaxis' + k] = Object.assign({}, axisBase, {domain:yDom, range:[ybot, P.ytop],
    tickvals:P.yticks, ticktext:P.yticks.map(String), anchor:xa});

  layout[legKey] = {x:px(P.legR), y:py(P.legT), xanchor:'right', yanchor:'top', bgcolor:'rgba(255,255,255,0.85)',
    bordercolor:'#cccccc', borderwidth:1.5, font:{family:FONT, size:21.5, color:'#000'}, itemwidth:45,
    tracegroupgap:0, traceorder:'normal'};

  // ---- box plot ----
  const bbase = {xaxis:xb, yaxis:yb, hoverinfo:'skip', showlegend:false, legend:legKey};
  [[P.eBox, 0, '#e5877d'], [P.nBox, 1, '#ffffff']].forEach(([s, pos, fc]) => {
    traces.push(Object.assign({type:'box', x:[pos], lowerfence:[s[0]], q1:[s[1]], median:[s[2]], q3:[s[3]], upperfence:[s[4]],
      width:0.8, whiskerwidth:0.5, fillcolor:fc, line:{color:'#676767', width:2.6}, boxpoints:false}, bbase));
  });
  [[P.eOut, 0], [P.nOut, 1]].forEach(([o, pos]) => {
    traces.push(Object.assign({type:'scatter', mode:'markers', x:o.map(() => pos), y:o,
      marker:{symbol:'diamond-tall', size:11, color:'#676767'}}, bbase));
  });
  const allBox = P.eBox.concat(P.eOut, P.nBox, P.nOut);
  const bmax = Math.max(...allBox), bmin = Math.min(...allBox);
  const leg = bmax + 1, bar = bmax + 3;
  traces.push(Object.assign({type:'scatter', mode:'lines', x:[0, 0, 1, 1], y:[leg, bar, bar, leg], line:{color:'#000', width:2.6}}, bbase));
  const span = bar - bmin;
  layout['xaxis' + kb] = Object.assign({}, axisBase, {domain:[px(P.side[0]), px(P.side[1])], range:[-0.5, 1.5],
    tickvals:[0, 1], ticktext:['', ''], anchor:yb});
  layout['yaxis' + kb] = Object.assign({}, axisBase, {domain:yDom, range:[bmin - 0.05*span, bar + 0.05*span],
    dtick:P.dtick, tick0:0, tickformat:P.dtick === 2.5 ? '.1f' : '', anchor:xb});
  layout.annotations.push({text:P.p, xref:xb, yref:yb, x:0.5, y:bar, yanchor:'top', xanchor:'center', yshift:-3,
    showarrow:false, font:{family:FONT, size:22, color:'#000'}});
  const sw = P.side[1] - P.side[0];
  boxCategoryLines.forEach((lines, c) => {
    const cx = P.side[0] + sw * (c + 0.5) / 2;
    lines.forEach((t, li) => ann(t, cx, P.bottom + 18 + li * 25, 21.5));
  });

  const mc = (P.main[0] + P.main[1]) / 2, sc = (P.side[0] + P.side[1]) / 2;
  ann(P.id + ', Cathepsin cleavage scores', mc, P.top - 43, 24);
  ann('Peptide edge vs non-edge', sc, P.top - 43, 24);
  ann('Sequence position and peptide locations', mc, P.bottom + 73, 24);
  ann('Residue location', sc, P.bottom + 70, 24);
  ann('PSSM score', 13, (P.top + P.bottom) / 2, 24, {textangle:-90});
  ann('PSSM score', P.ytitleBox, (P.top + P.bottom) / 2, 24, {textangle:-90});
});

Plotly.newPlot('chart', traces, layout, {staticPlot:true, displayModeBar:false});
</script>
</body></html>
